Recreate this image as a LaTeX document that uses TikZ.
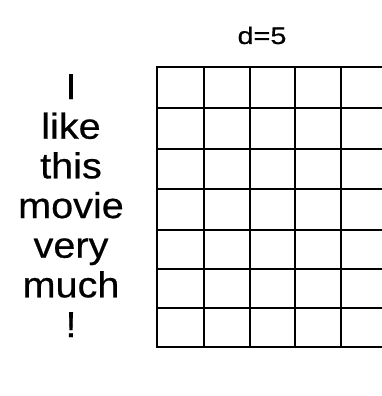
\documentclass[tikz,border=0pt]{standalone}
\usepackage{fontspec}
\setmainfont{Liberation Sans}
\newfontfamily\wordfont[FakeStretch=1.1,FakeBold=0.6]{Liberation Sans}
\newfontfamily\labfont[FakeStretch=1.2,FakeBold=0.5]{Liberation Sans}
\begin{document}
\begin{tikzpicture}[x=1pt,y=-1pt,
  word/.style={anchor=base,inner sep=0pt,font=\wordfont\fontsize{36}{36}\selectfont},
  gridline/.style={line width=2.5pt,black}]
\useasboundingbox (0,0) rectangle (382,396);
\clip (0,0) rectangle (382,396);
\foreach \gx in {157,204,250,295,341} \draw[gridline] (\gx,66) -- (\gx,348);
\foreach \gy in {67,108,149,189,230,269,308,347} \draw[gridline] (156,\gy) -- (390,\gy);
\node[word] (w1) at (71,99) {I};
\node[word] (w2) at (71,138.7) {like};
\node[word] (w3) at (71,178.3) {this};
\node[word] (w4) at (71,218) {movie};
\node[word] (w5) at (71,257.7) {very};
\node[word] (w6) at (71,297.3) {much};
\node[word] (w7) at (71,337) {!};
\node[anchor=base,inner sep=0pt,font=\labfont\fontsize{24}{24}\selectfont] (d) at (262,44) {d=5};
\end{tikzpicture}
\end{document}
